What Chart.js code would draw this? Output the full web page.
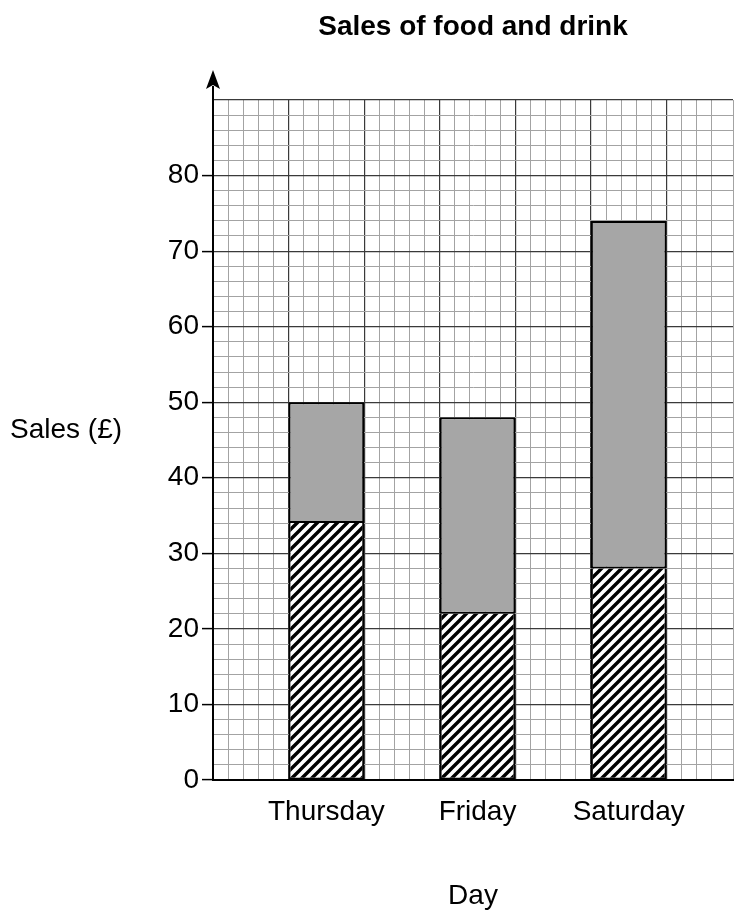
<!DOCTYPE html>
<html>
<head>
<meta charset="utf-8">
<script src="https://cdn.jsdelivr.net/npm/chart.js@4.4.1/dist/chart.umd.min.js"></script>
<style>
  body { margin: 0; background: #fff; }
  #wrap { width: 734px; height: 916px; }
</style>
</head>
<body>
<div id="wrap"><canvas id="salesChart"></canvas></div>
<script>
// chart values
const days = ["Thursday", "Friday", "Saturday"];
const dayPositions = [15, 35, 55]; // centre of each bar on the paper grid
const drinkSales = [34, 22, 28];   // hatched part
const foodSales = [16, 26, 46];    // grey part (totals 50, 48, 74)
const yTickLabels = [0, 10, 20, 30, 40, 50, 60, 70, 80];

//hatch pattern for the lower part of the bars
function makeHatch() {
  const c = document.createElement("canvas");
  c.width = 10;
  c.height = 10;
  const g = c.getContext("2d");
  g.fillStyle = "#fff";
  g.fillRect(0, 0, 10, 10);
  g.strokeStyle = "#000";
  g.lineWidth = 3.4;
  g.beginPath();
  g.moveTo(-2, 12); g.lineTo(12, -2);
  g.moveTo(-2, 2); g.lineTo(2, -2);
  g.moveTo(8, 12); g.lineTo(12, 8);
  g.stroke();
  return g.createPattern(c, "repeat");
}

//arrow on the y axis and the horizontal y label
const extras = {
  id: "extras",
  afterDraw(chart) {
    const { ctx, chartArea } = chart;
    const x = chartArea.left;
    ctx.save();
    ctx.strokeStyle = "#000";
    ctx.lineWidth = 2;
    ctx.beginPath();
    ctx.moveTo(x, chartArea.top);
    ctx.lineTo(x, chartArea.top - 14);
    ctx.stroke();
    ctx.fillStyle = "#000";
    ctx.beginPath();
    ctx.moveTo(x, chartArea.top - 30);
    ctx.lineTo(x + 7, chartArea.top - 11);
    ctx.lineTo(x, chartArea.top - 15);
    ctx.lineTo(x - 7, chartArea.top - 11);
    ctx.closePath();
    ctx.fill();
    ctx.font = "28px 'Liberation Sans', Arial, sans-serif";
    ctx.textAlign = "left";
    ctx.textBaseline = "alphabetic";
    ctx.fillText("Sales (£)", 10, 438);
    ctx.restore();
  },
};

Chart.defaults.font.family = "'Liberation Sans', Arial, sans-serif";
Chart.defaults.font.size = 28;
Chart.defaults.color = "#000";

const tickVal = (c) => (c.tick ? c.tick.value : NaN);
const isMajor = (v) => Math.abs(v % 10) < 1e-6;
const lineColor = (c) => (isMajor(tickVal(c)) ? "#3a3a3a" : "#a3a3a3");
const lineW = (c) => (isMajor(tickVal(c)) ? 1.2 : 1);

const hatch = makeHatch();
const ctx = document.getElementById("salesChart").getContext("2d");
const salesChart = new Chart(ctx, {
  type: "bar",
  data: {
    datasets: [
      {
        label: "Drink",
        data: dayPositions.map((x, i) => ({ x: x, y: drinkSales[i] })),
        backgroundColor: hatch,
        borderColor: "#000",
        borderWidth: 2,
        borderSkipped: "end",
      },
      {
        label: "Food",
        data: dayPositions.map((x, i) => ({ x: x, y: foodSales[i] })),
        backgroundColor: "#a6a6a6",
        borderColor: "#000",
        borderWidth: 2,
        borderSkipped: false,
      },
    ],
  },
  options: {
    responsive: true,
    maintainAspectRatio: false,
    animation: false,
    barPercentage: 0.5,
    categoryPercentage: 1,
    layout: { padding: { left: 0, right: 1, top: 0, bottom: 0 } },
    plugins: {
      legend: { display: false },
      tooltip: { enabled: false },
      title: {
        display: true,
        text: "Sales of food and drink",
        fullSize: false,
        font: { size: 28, weight: "bold" },
        padding: { top: 10.6, bottom: 55.8 },
      },
    },
    scales: {
      x: {
        type: "linear",
        stacked: true,
        offset: false,
        min: 0,
        max: 68.8,
        afterBuildTicks: (scale) => {
          scale.ticks = dayPositions.map((v) => ({ value: v }));
        },
        afterFit: (scale) => {
          scale.height = 136;
        },
        ticks: {
          autoSkip: false,
          maxRotation: 0,
          minRotation: 0,
          padding: 15,
          callback: (value, index) => days[index],
        },
        grid: { display: false, drawTicks: false, offset: false },
        border: { display: true, color: "#000", width: 2 },
        title: {
          display: true,
          text: "Day",
          font: { size: 28 },
          padding: { top: 0, bottom: 3 },
        },
      },
      paper: {
        type: "linear",
        position: "bottom",
        offset: false,
        min: 0,
        max: 68.8,
        afterFit: (scale) => {
          scale.height = 0;
        },
        ticks: { display: false, stepSize: 2, autoSkip: false, maxTicksLimit: 200 },
        grid: {
          drawTicks: false,
          offset: false,
          color: lineColor,
          lineWidth: lineW,
        },
        border: { display: false },
      },
      y: {
        stacked: true,
        min: 0,
        max: 90,
        afterFit: (scale) => {
          scale.width = 213;
        },
        ticks: {
          stepSize: 2,
          autoSkip: false,
          maxTicksLimit: 200,
          padding: 3,
          callback: (value) => (yTickLabels.includes(value) ? value : ""),
        },
        grid: {
          tickLength: 11,
          color: lineColor,
          lineWidth: lineW,
          tickColor: (c) => (yTickLabels.includes(tickVal(c)) ? "#000" : "rgba(0,0,0,0)"),
          tickWidth: 1.5,
        },
        border: { display: true, color: "#000", width: 2 },
      },
    },
  },
  plugins: [extras],
});
</script>
</body>
</html>
